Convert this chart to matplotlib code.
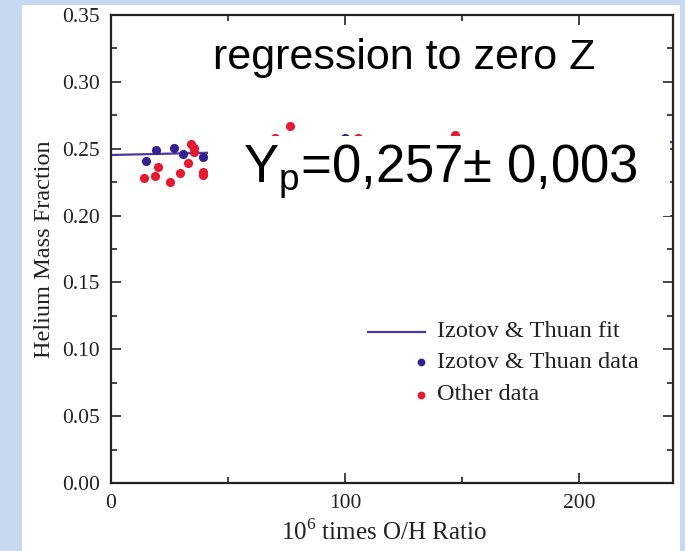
import matplotlib
matplotlib.use("Agg")
import matplotlib.pyplot as plt
from matplotlib.patches import Rectangle
from matplotlib.ticker import MultipleLocator, FormatStrFormatter

# Izotov & Thuan data (O/H * 1e6, helium mass fraction)
it_oh = [14.8, 19.1, 26.9, 30.9, 39.2, 100.0]
it_y = [0.2411, 0.2491, 0.2503, 0.2458, 0.2436, 0.2578]

# other data
other_oh = [34.0, 35.6, 35.3, 32.8, 20.2, 29.5, 18.8, 14.2, 25.2, 39.4, 39.2,
            76.5, 70.1, 105.6, 147.0]
other_y = [0.2533, 0.2503, 0.2478, 0.2391, 0.2366, 0.2316, 0.2296, 0.2279,
           0.2249, 0.2328, 0.2304, 0.2670, 0.2578, 0.2578, 0.2605]

# fit line end points
fit_oh = [0, 240]
fit_y = [0.2453, 0.2550]

X_LIM = (0, 240)
Y_LIM = (0.0, 0.35)

FIT_COLOR = "#4b3a9c"
BLUE = "#35208f"
RED = "#e5192f"
BG = "#c6d9f0"
SERIF = ["Liberation Serif", "DejaVu Serif"]
SANS = ["Liberation Sans", "DejaVu Sans"]
MS = 6.6

fig = plt.figure(figsize=(6.85, 5.51), dpi=100)
fig.patch.set_facecolor(BG)
# white slide panel
fig.add_artist(Rectangle((22 / 685, 0), 658 / 685, 546 / 551,
                         transform=fig.transFigure, facecolor="white",
                         edgecolor="none", zorder=0))

ax = fig.add_axes([111 / 685, 1 - 483 / 551, 562 / 685, 468 / 551])
ax.set_facecolor("none")

ax.plot(fit_oh, fit_y, color=FIT_COLOR, lw=1.6, zorder=2)
ax.plot(it_oh, it_y, "o", color=BLUE, ms=MS, mew=0, zorder=2)
ax.plot(other_oh, other_y, "o", color=RED, ms=MS, mew=0, zorder=2)

ax.set_xlim(*X_LIM)
ax.set_ylim(*Y_LIM)
ax.xaxis.set_major_locator(MultipleLocator(100))
ax.xaxis.set_minor_locator(MultipleLocator(50))
ax.yaxis.set_major_locator(MultipleLocator(0.05))
ax.yaxis.set_minor_locator(MultipleLocator(0.025))
ax.yaxis.set_major_formatter(FormatStrFormatter("%.2f"))
ax.tick_params(which="both", direction="in", top=True, right=True,
               width=1.2, colors="#222222")
ax.tick_params(which="major", length=7, pad=8, labelsize=15.5)
ax.tick_params(which="minor", length=4)
for lab in ax.get_xticklabels() + ax.get_yticklabels():
    lab.set_family(SERIF)
    lab.set_color("#222222")
for sp in ax.spines.values():
    sp.set_linewidth(1.6)
    sp.set_color("#222222")

ax.set_xlabel(r"10$^{\mathregular{6}}$ times O/H Ratio", family=SERIF,
              fontsize=18, color="#222222")
ax.xaxis.set_label_coords(0.486, -0.078)
ax.set_ylabel("Helium Mass Fraction", family=SERIF, fontsize=17.5,
              color="#222222", labelpad=5)

# white box behind the big annotation
ax.add_patch(Rectangle((0.1726, 0.57), 0.822, 0.172, transform=ax.transAxes,
                       facecolor="white", edgecolor="none", zorder=3))
ax.text(0.522, 0.885, "regression to zero Z", transform=ax.transAxes,
        family=SANS, fontsize=31, ha="center", va="baseline", zorder=4)
ax.text(0.234, 0.64, r"Y$_{\mathregular{p}}$=0,257± 0,003",
        transform=ax.transAxes, family=SANS, fontsize=38, ha="left",
        va="baseline", zorder=4)

# legend drawn by hand
ax.plot([0.458, 0.559], [0.323, 0.323], transform=ax.transAxes,
        color=FIT_COLOR, lw=1.6, clip_on=False)
ax.plot([0.551], [0.258], "o", transform=ax.transAxes, color=BLUE, ms=5.6,
        mew=0)
ax.plot([0.551], [0.189], "o", transform=ax.transAxes, color=RED, ms=5.6,
        mew=0)
for ty, txt in [(0.323, "Izotov & Thuan fit"), (0.258, "Izotov & Thuan data"),
                (0.189, "Other data")]:
    ax.text(0.580, ty, txt, transform=ax.transAxes, family=SERIF,
            fontsize=17.5, va="center", ha="left", color="#222222")

fig.savefig("out.png", dpi=100, facecolor=fig.get_facecolor())
